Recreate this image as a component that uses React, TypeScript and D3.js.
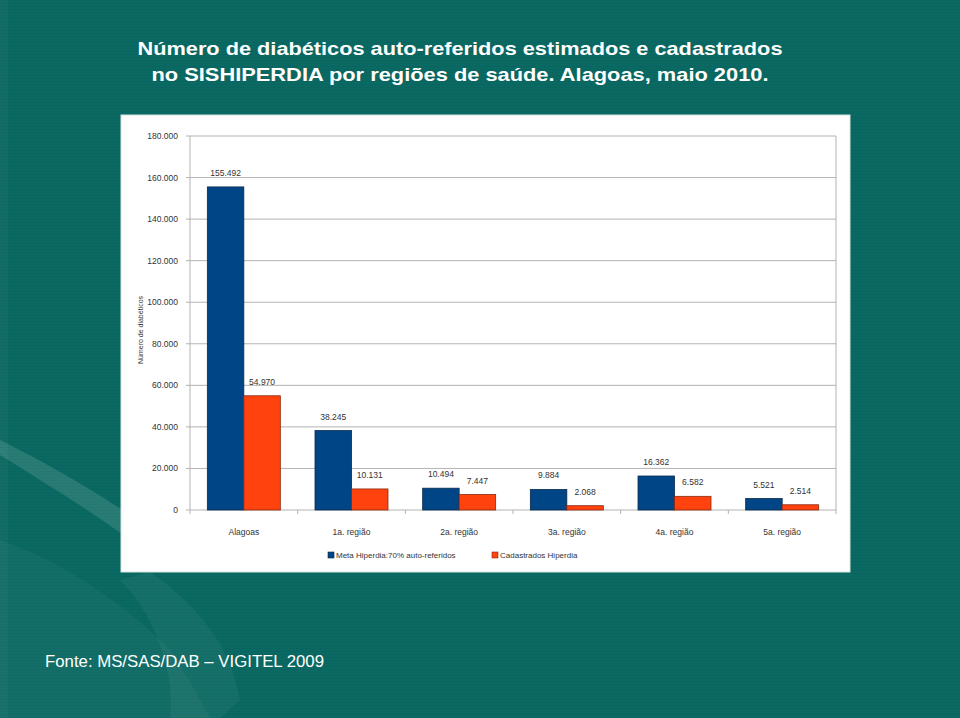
import React from "react";
import * as d3 from "d3";

const categories = ["Alagoas", "1a. região", "2a. região", "3a. região", "4a. região", "5a. região"];
const metaValues = [155492, 38245, 10494, 9884, 16362, 5521];
const cadastradosValues = [54970, 10131, 7447, 2068, 6582, 2514];
const seriesKeys = ["meta", "cad"];
const seriesNames = ["Meta Hiperdia:70% auto-referidos", "Cadastrados Hiperdia"];
const seriesColors = ["#004586", "#ff420e"];
const titleLines = [
  "Número de diabéticos auto-referidos estimados e cadastrados",
  "no SISHIPERDIA por regiões de saúde. Alagoas, maio 2010.",
];
const yTitle = "Número de diabéticos";
const footer = "Fonte: MS/SAS/DAB – VIGITEL 2009";

const W = 960;
const H = 718;
const plot = { left: 190, right: 836, top: 136, bottom: 510 };

const locale = d3.formatLocale({ decimal: ",", thousands: ".", grouping: [3], currency: ["R$", ""] });
const fmt = locale.format(",d");

export default function App() {
  const x = d3.scaleBand<string>().domain(categories).range([plot.left, plot.right]).paddingInner(0).paddingOuter(0);
  const x1 = d3.scaleBand<string>().domain(seriesKeys).range([0, x.bandwidth()]).paddingInner(0).paddingOuter(0.475);
  const y = d3.scaleLinear().domain([0, 180000]).range([plot.bottom, plot.top]);
  const ticks = y.ticks(9);
  const series = [metaValues, cadastradosValues];
  const font = "Liberation Sans, Arial, sans-serif";

  return (
    <svg width={W} height={H} style={{ position: "fixed", left: 0, top: 0, display: "block" }} fontFamily={font}>
      <defs>
        <pattern id="stripes" width="4" height="3" patternUnits="userSpaceOnUse">
          <rect width="4" height="1" fill="rgba(0,0,0,0.035)" />
        </pattern>
      </defs>
      <rect width={W} height={H} fill="#0a6962" />
      {/* decorative background shapes */}
      <path d="M0,440 C60,470 100,495 130,515 L130,540 C90,510 40,480 0,455 Z" fill="rgba(255,255,255,0.13)" />
      <path d="M0,540 C60,560 120,600 170,650 C190,680 200,700 210,718 L0,718 Z" fill="rgba(255,255,255,0.035)" />
      <path d="M150,572 C190,600 230,640 240,700 L220,718 L170,718 C175,680 160,620 120,580 Z" fill="rgba(255,255,255,0.05)" />
      <path d="M0,0 L8,0 L8,718 L0,718 Z" fill="rgba(255,255,255,0.03)" />
      <rect width={W} height={H} fill="url(#stripes)" />

      {/* title */}
      {titleLines.map((t, i) => (
        <text
          key={i}
          x={460}
          y={55 + i * 26}
          textAnchor="middle"
          fill="#ffffff"
          fontWeight="bold"
          fontSize={19}
          textLength={i === 0 ? 645 : 617}
          lengthAdjust="spacingAndGlyphs"
        >
          {t}
        </text>
      ))}

      {/* chart box */}
      <rect x={121} y={115} width={729} height={457} fill="#ffffff" stroke="#d8e4e2" strokeWidth={1} />

      {/* gridlines and y ticks */}
      {ticks.map((t) => (
        <g key={t}>
          <line x1={plot.left - 4} x2={plot.right} y1={y(t)} y2={y(t)} stroke="#b3b3b3" strokeWidth={1} />
          <text x={178} y={y(t) + 3} textAnchor="end" fontSize={8.5} fill="#333">
            {fmt(t)}
          </text>
        </g>
      ))}
      <line x1={plot.left} x2={plot.left} y1={plot.top} y2={plot.bottom} stroke="#b3b3b3" />
      <line x1={plot.right} x2={plot.right} y1={plot.top} y2={plot.bottom} stroke="#b3b3b3" />
      {/* x ticks */}
      {categories.map((c, i) => (
        <line key={c} x1={x(c)!} x2={x(c)!} y1={plot.bottom} y2={plot.bottom + 4} stroke="#b3b3b3" />
      ))}
      <line x1={plot.right} x2={plot.right} y1={plot.bottom} y2={plot.bottom + 4} stroke="#b3b3b3" />

      {/* y title */}
      <text
        transform={`translate(143,330) rotate(-90)`}
        textAnchor="middle"
        fontSize={7}
        fill="#333"
      >
        {yTitle}
      </text>

      {/* bars */}
      {categories.map((c, i) => (
        <g key={c}>
          {series.map((vals, s) => {
            const bx = x(c)! + x1(seriesKeys[s])!;
            const bw = x1.bandwidth();
            const v = vals[i];
            return (
              <g key={s}>
                <rect
                  x={bx}
                  y={y(v)}
                  width={bw}
                  height={plot.bottom - y(v)}
                  fill={seriesColors[s]}
                  stroke={s === 0 ? "#0a2a4a" : "#8a2a10"}
                  strokeWidth={0.8}
                />
                <text x={bx + bw / 2} y={y(v) - 11} textAnchor="middle" fontSize={8.5} fill="#333">
                  {fmt(v)}
                </text>
              </g>
            );
          })}
          <text x={x(c)! + x.bandwidth() / 2} y={535} textAnchor="middle" fontSize={8.5} fill="#333">
            {c}
          </text>
        </g>
      ))}

      {/* legend */}
      {seriesNames.map((n, s) => {
        const lx = s === 0 ? 328 : 492;
        return (
          <g key={n}>
            <rect x={lx} y={552} width={6} height={6} fill={seriesColors[s]} stroke={s === 0 ? "#0a2a4a" : "#8a2a10"} strokeWidth={0.6} />
            <text x={lx + 8} y={558} fontSize={8} fill="#333">
              {n}
            </text>
          </g>
        );
      })}

      {/* footer */}
      <text x={45} y={667} fill="#ffffff" fontSize={17} textLength={279} lengthAdjust="spacingAndGlyphs">
        {footer}
      </text>
    </svg>
  );
}
